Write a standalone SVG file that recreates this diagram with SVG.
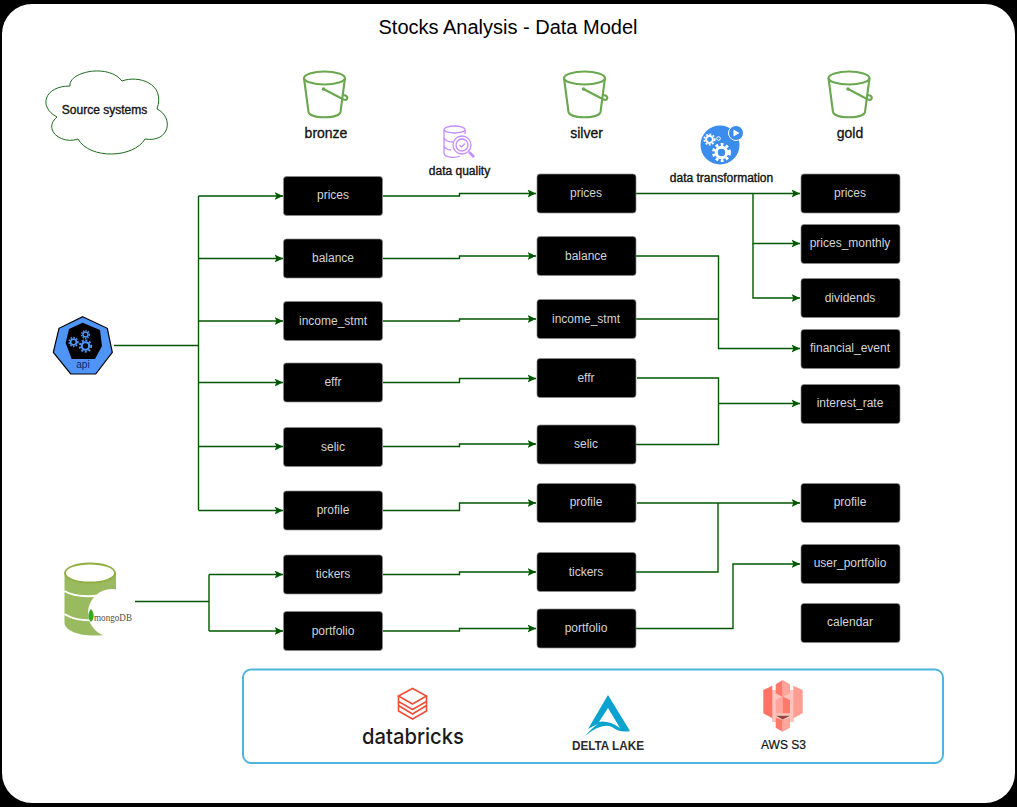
<svg xmlns="http://www.w3.org/2000/svg" xmlns:xlink="http://www.w3.org/1999/xlink" width="1017" height="807" viewBox="0 0 1017 807">
<style>
text{font-family:"Liberation Sans",Arial,sans-serif;text-anchor:middle}
.box rect{fill:#000;stroke:#8a8a8a;stroke-width:.7}
.box text{fill:#d4d4d4;font-size:12px}
.c{fill:none;stroke:#005700;stroke-width:1.4}
.a{marker-end:url(#arr)}
.h{font-size:14px;fill:#111;stroke:#111;stroke-width:.3}
.l{font-size:12px;fill:#111;stroke:#111;stroke-width:.35}
.bk{fill:none;stroke:#6aa84f;stroke-width:2.1}
</style>
<defs>
<marker id="arr" markerUnits="userSpaceOnUse" markerWidth="10" markerHeight="10" refX="8.5" refY="5" orient="auto">
<path d="M0,1 L8.5,5 L0,9 L2,5 Z" fill="#005700"/>
</marker>
<g id="bucket">
<ellipse cx="0" cy="0" rx="20.500" ry="6.500" class="bk"/>
<path class="bk" d="M-20.500,0 L-16,34 C-14,41 14,41 16,34 L20.500,0"/>
<path class="bk" d="M-1,11 L19,21.500 C23,23 24,19 21,17.500 C20,17 19,17 18,17"/>
<circle cx="-1" cy="11" r="1.800" fill="#6aa84f"/>
</g>
<g id="gear"><circle r="3.400" fill="none" stroke="currentColor" stroke-width="2"/><circle r="5.200" fill="none" stroke="currentColor" stroke-width="1.800" stroke-dasharray="1.800 1.600"/></g>
</defs>

<rect width="1017" height="807" fill="#000"/>
<rect x="2" y="4" width="1013" height="799" rx="30" ry="30" fill="#fff"/>
<text x="508" y="34" font-size="20" fill="#000">Stocks Analysis - Data Model</text>

<g id="source-systems">
<path d="M70,86 C68,72 108,63 122,81 C138,75 166,83 157,109 C174,117 170,143 145,139 C134,158 90,160 78,139 C62,145 42,130 57,117 C38,107 44,86 70,86 Z" fill="#fff" stroke="#1e6b1e" stroke-width="1"/>
<text x="104.500" y="114" class="l">Source systems</text>
</g>

<g id="bucket-bronze"><use xlink:href="#bucket" href="#bucket" x="324.500" y="78"/><text x="326" y="138" class="h">bronze</text></g>
<g id="bucket-silver"><use xlink:href="#bucket" href="#bucket" x="584.500" y="78"/><text x="586.500" y="138" class="h">silver</text></g>
<g id="bucket-gold"><use xlink:href="#bucket" href="#bucket" x="849" y="78"/><text x="850" y="138" class="h">gold</text></g>

<g id="data-quality">
<g fill="none" stroke="#c58cff" stroke-width="1.300">
<ellipse cx="454.500" cy="129.500" rx="10.500" ry="3.500"/>
<path d="M444,130 V153 C444,158 456,158 460,156 M465,130 V134 M444,138 C446,142 451,142 453,142 M444,146 C446,150 450,150 451,150"/>
<circle cx="462" cy="145" r="9"/><circle cx="462" cy="145" r="6"/>
<path d="M459.500,145 L461.500,147 L465,143.500"/>
<path d="M469,152 L474,157" stroke-width="2.500"/>
</g>
<text x="459.500" y="175" class="l">data quality</text>
</g>

<g id="data-transformation">
<circle cx="720" cy="145" r="19.500" fill="#3b8ced"/>
<circle cx="736" cy="133" r="7.500" fill="#3b8ced" stroke="#fff" stroke-width="1"/>
<path d="M733.500,129.500 L739.500,133 L733.500,136.500 Z" fill="#fff"/>
<g color="#fff">
<use xlink:href="#gear" href="#gear" x="709.500" y="139.500"/>
<g transform="translate(721.500 152.500) scale(1.550)"><use xlink:href="#gear" href="#gear"/></g>
<circle cx="718.500" cy="138.500" r="1.800" fill="none" stroke="#fff" stroke-width="1"/>
</g>
<text x="721.500" y="182" class="l">data transformation</text>
</g>

<g id="api">
<path d="M82.700,316.700 L107.300,328.300 L112.300,352.300 L95.700,374 L70.700,374 L53.300,352.300 L59,328.300 Z" fill="#4f94f7" stroke="#000" stroke-width="1.200"/>
<path d="M82.700,322.700 L100,330 L102,346 L95,359 L71.700,359 L65.700,343 L69,329 Z" fill="#000"/>
<g color="#4f94f7">
<g transform="translate(73.500 342) scale(.85)"><use xlink:href="#gear" href="#gear"/></g>
<g transform="translate(85.500 334.500) scale(.75)"><use xlink:href="#gear" href="#gear"/></g>
<g transform="translate(85.500 346) scale(1.100)"><use xlink:href="#gear" href="#gear"/></g>
</g>
<text x="83" y="367.500" font-size="10" fill="#0d2a66">api</text>
</g>

<g id="mongodb">
<path d="M64.500,573 V623 C65,631 80,636 96,635.500 L116,635 V573 Z" fill="#9aba5f"/>
<ellipse cx="90" cy="573" rx="25" ry="9.500" fill="#fff" stroke="#8fae3f" stroke-width="1.800"/>
<path d="M64.500,591 C75,598 100,598 116,591 M64.500,614 C75,621 90,621 100,619" fill="none" stroke="#fff" stroke-width="2"/>
<circle cx="112" cy="613" r="24" fill="#fff"/>
<path d="M91,609 C87,614 88,619 91,622 C94,619 95,614 91,609 Z" fill="#3aa81e"/>
<text x="113" y="621" font-size="10" textLength="38" lengthAdjust="spacingAndGlyphs" style="font-family:'Liberation Serif',serif" fill="#5a4c40">mongoDB</text>
</g>

<g id="connectors">
<path class="c" d="M114,345.500 H198.500 M198.500,196 V510"/>
<path class="c a" d="M198.500,196 H283"/>
<path class="c a" d="M198.500,258.500 H283"/>
<path class="c a" d="M198.500,321 H283"/>
<path class="c a" d="M198.500,382.500 H283"/>
<path class="c a" d="M198.500,446.500 H283"/>
<path class="c a" d="M198.500,510.500 H283"/>
<path class="c" d="M135,601.500 H209 M209,574.500 V631"/>
<path class="c a" d="M209,574.500 H283"/>
<path class="c a" d="M209,631 H283"/>
<path class="c a" d="M383,196 H459.500 V193.500 H536"/>
<path class="c a" d="M383,258.500 H459.500 V256 H536"/>
<path class="c a" d="M383,321 H459.500 V319 H536"/>
<path class="c a" d="M383,382.500 H459.500 V378.500 H536"/>
<path class="c a" d="M383,446.500 H459.500 V444 H536"/>
<path class="c a" d="M383,510.500 H459.500 V503 H536"/>
<path class="c a" d="M383,574.500 H459.500 V572 H536"/>
<path class="c a" d="M383,631 H459.500 V628.500 H536"/>
<path class="c a" d="M636,193.500 H800"/>
<path class="c a" d="M753,193.500 V243.500 H800"/>
<path class="c a" d="M753,243.500 V298 H800"/>
<path class="c a" d="M636,256 H718.500 V348.500 H800"/>
<path class="c" d="M636,319 H718.500"/>
<path class="c" d="M637,378 H718.500 V444.500 H636"/>
<path class="c a" d="M718.500,403.500 H800"/>
<path class="c a" d="M637,503 H800"/>
<path class="c" d="M636,572 H718 V503"/>
<path class="c a" d="M636,628.500 H733 V564 H800"/>
</g>

<g id="bronze-prices" class="box"><rect x="283.500" y="176.500" width="99" height="39" rx="3"/><text x="333" y="199">prices</text></g>
<g id="bronze-balance" class="box"><rect x="283.500" y="239" width="99" height="39" rx="3"/><text x="333" y="262">balance</text></g>
<g id="bronze-income_stmt" class="box"><rect x="283.500" y="301.500" width="99" height="39" rx="3"/><text x="333" y="325">income_stmt</text></g>
<g id="bronze-effr" class="box"><rect x="283.500" y="363" width="99" height="39" rx="3"/><text x="333" y="386">effr</text></g>
<g id="bronze-selic" class="box"><rect x="283.500" y="427.500" width="99" height="39" rx="3"/><text x="333" y="451">selic</text></g>
<g id="bronze-profile" class="box"><rect x="283.500" y="491" width="99" height="39" rx="3"/><text x="333" y="514">profile</text></g>
<g id="bronze-tickers" class="box"><rect x="283.500" y="555" width="99" height="39" rx="3"/><text x="333" y="578">tickers</text></g>
<g id="bronze-portfolio" class="box"><rect x="283.500" y="611.500" width="99" height="39" rx="3"/><text x="333" y="635">portfolio</text></g>

<g id="silver-prices" class="box"><rect x="537" y="174" width="99" height="39" rx="3"/><text x="586" y="197">prices</text></g>
<g id="silver-balance" class="box"><rect x="537" y="236.500" width="99" height="39" rx="3"/><text x="586" y="260">balance</text></g>
<g id="silver-income_stmt" class="box"><rect x="537" y="299.500" width="99" height="39" rx="3"/><text x="586" y="323">income_stmt</text></g>
<g id="silver-effr" class="box"><rect x="537" y="358.500" width="99" height="39" rx="3"/><text x="586" y="382">effr</text></g>
<g id="silver-selic" class="box"><rect x="537" y="425" width="99" height="39" rx="3"/><text x="586" y="448">selic</text></g>
<g id="silver-profile" class="box"><rect x="537" y="483.500" width="99" height="39" rx="3"/><text x="586" y="506">profile</text></g>
<g id="silver-tickers" class="box"><rect x="537" y="552.500" width="99" height="39" rx="3"/><text x="586" y="576">tickers</text></g>
<g id="silver-portfolio" class="box"><rect x="537" y="609" width="99" height="39" rx="3"/><text x="586" y="632">portfolio</text></g>

<g id="gold-prices" class="box"><rect x="801" y="174" width="99" height="39" rx="3"/><text x="850" y="197">prices</text></g>
<g id="gold-prices_monthly" class="box"><rect x="801" y="224.500" width="99" height="39" rx="3"/><text x="850" y="247">prices_monthly</text></g>
<g id="gold-dividends" class="box"><rect x="801" y="278.500" width="99" height="39" rx="3"/><text x="850" y="302">dividends</text></g>
<g id="gold-financial_event" class="box"><rect x="801" y="329.500" width="99" height="39" rx="3"/><text x="850" y="352">financial_event</text></g>
<g id="gold-interest_rate" class="box"><rect x="801" y="384.500" width="99" height="39" rx="3"/><text x="850" y="407">interest_rate</text></g>
<g id="gold-profile" class="box"><rect x="801" y="483.500" width="99" height="39" rx="3"/><text x="850" y="506">profile</text></g>
<g id="gold-user_portfolio" class="box"><rect x="801" y="544.500" width="99" height="39" rx="3"/><text x="850" y="567">user_portfolio</text></g>
<g id="gold-calendar" class="box"><rect x="801" y="603.500" width="99" height="39" rx="3"/><text x="850" y="626">calendar</text></g>

<g id="tech-stack">
<rect x="243" y="669.500" width="700" height="93.500" rx="8" fill="#fff" stroke="#4fb3e0" stroke-width="2"/>
<g fill="none" stroke="#ee4f3a" stroke-width="1.600">
<path d="M398.500,696 L412.500,688.500 L426.500,696 L412.500,704 Z"/>
<path d="M398.500,696 V701.500 L412.500,709.500 L426.500,701.500 V696"/>
<path d="M398.500,701.500 V711 L412.500,719 L426.500,711 V701.500 M398.500,705.500 L412.500,714 L426.500,705.500"/>
</g>
<text x="413" y="743.500" font-size="22" font-weight="500" style="font-family:Inter,sans-serif" fill="#1b1b1b" textLength="102" lengthAdjust="spacingAndGlyphs">databricks</text>
<path d="M608,695 L630,731 Q620,733 612,727 Q602,722 585,736 Q592,728 598,724 Q591,727 588,729 Z" fill="#0aa3d0"/>
<path d="M608,708 L599,722 Q608,720 620,728 Z" fill="#fff"/>
<text x="608" y="749.500" font-size="12" font-weight="700" fill="#2b2b2b" textLength="72" lengthAdjust="spacingAndGlyphs">DELTA LAKE</text>
<g>
<path d="M772,690 H794 V722 H772 Z" fill="#ffc4bd"/>
<path d="M763.300,690 L772.300,685.700 V718.300 L763.300,713.300 Z" fill="#ff7366"/>
<path d="M802.700,690 L793.300,685.700 V718.300 L802.700,713.300 Z" fill="#ff9d93"/>
<path d="M775.700,684.300 L782.700,680 V697 L775.700,693.300 Z" fill="#ff7a6d"/>
<path d="M782.700,680 L790,684.300 V693.300 L782.700,697 Z" fill="#ffa59c"/>
<path d="M775.700,700 L782.700,696.500 V713.300 H775.700 Z" fill="#ffa59c"/>
<path d="M782.700,696.500 L790,700 V713.300 H782.700 Z" fill="#ff7a6d"/>
<path d="M775.700,717.700 L782.700,720 V731.700 L775.700,727.700 Z" fill="#ff7a6d"/>
<path d="M782.700,720 L790,717.700 V727.700 L782.700,731.700 Z" fill="#ffa59c"/>
<path d="M776,715.700 H790 L782.700,719.500 Z" fill="#8c4a40"/>
</g>
<text x="783.500" y="749" font-size="12" fill="#111" stroke="#111" stroke-width=".2">AWS S3</text>
</g>
</svg>
